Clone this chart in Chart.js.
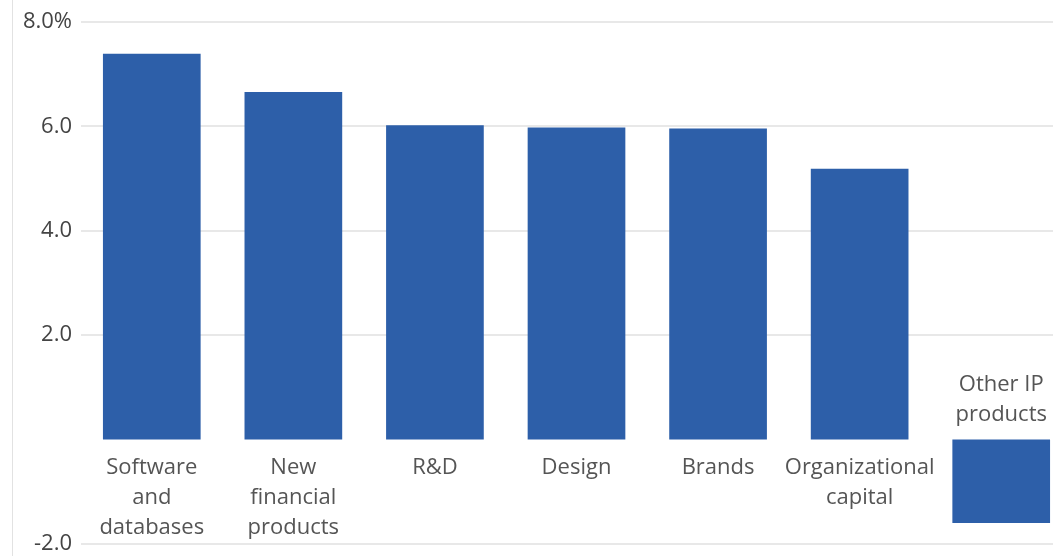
<!DOCTYPE html>
<html>
<head>
<meta charset="utf-8">
<script src="https://cdn.jsdelivr.net/npm/chart.js@4/dist/chart.umd.min.js"></script>
<style>
  html, body { margin: 0; padding: 0; background: #fff; overflow: hidden; width: 1053px; height: 556px; }
  #wrap { position: relative; width: 1072px; height: 556px; }
  #axisline { position: absolute; left: 12px; top: 0; width: 0; height: 556px; border-left: 1px solid #e2e2e2; }
</style>
</head>
<body>
<div id="wrap">
  <div id="axisline"></div>
  <canvas id="c" width="1072" height="556"></canvas>
</div>
<script>
const categories = [
  ["Software", "and", "databases"],
  ["New", "financial", "products"],
  ["R&D"],
  ["Design"],
  ["Brands"],
  ["Organizational", "capital"],
  ["Other IP", "products"]
];
const values = [7.39, 6.66, 6.02, 5.98, 5.96, 5.19, -1.60];
const yTicks = [-2, 2, 4, 6, 8];
const yTickLabels = ["-2.0", "2.0", "4.0", "6.0", "8.0%"];

const FONT = '"Open Sans", "Noto Sans", sans-serif';

const catLabelPlugin = {
  id: 'catLabels',
  afterDatasetsDraw(chart) {
    const ctx = chart.ctx;
    const xs = chart.scales.x, ys = chart.scales.y;
    const zero = ys.getPixelForValue(0);
    const lh = 30;
    ctx.save();
    ctx.font = '22px ' + FONT;
    ctx.fillStyle = '#555555';
    ctx.textAlign = 'center';
    ctx.textBaseline = 'middle';
    categories.forEach((lines, i) => {
      const x = xs.getPixelForValue(i);
      if (values[i] >= 0) {
        lines.forEach((t, k) => ctx.fillText(t, x, zero + 28 + k * lh));
      } else {
        const n = lines.length;
        lines.forEach((t, k) => ctx.fillText(t, x, zero - 25 - (n - 1 - k) * lh));
      }
    });
    ctx.restore();
  }
};

new Chart(document.getElementById('c'), {
  type: 'bar',
  data: {
    labels: categories.map(l => l.join(' ')),
    datasets: [{
      data: values,
      backgroundColor: '#2d5fa9',
      borderWidth: 0,
      barPercentage: 0.69,
      categoryPercentage: 1.0
    }]
  },
  options: {
    responsive: false,
    animation: false,
    layout: { padding: { top: 22, bottom: 12, left: 0, right: 0 } },
    plugins: { legend: { display: false }, tooltip: { enabled: false } },
    scales: {
      x: {
        display: false,
        offset: true,
        grid: { display: false }
      },
      y: {
        min: -2,
        max: 8,
        afterFit(scale) { scale.width = 81; scale.paddingTop = 0; scale.paddingBottom = 0; },
        afterBuildTicks(scale) { scale.ticks = yTicks.map(v => ({ value: v })); },
        border: { display: false },
        grid: {
          color: '#e8e8e8',
          lineWidth: 2,
          drawTicks: false
        },
        ticks: {
          padding: 9,
          color: '#444444',
          font: { family: FONT, size: 22 },
          callback(v) { const i = yTicks.indexOf(v); return i >= 0 ? yTickLabels[i] : ''; }
        }
      }
    }
  },
  plugins: [catLabelPlugin]
});
</script>
</body>
</html>
